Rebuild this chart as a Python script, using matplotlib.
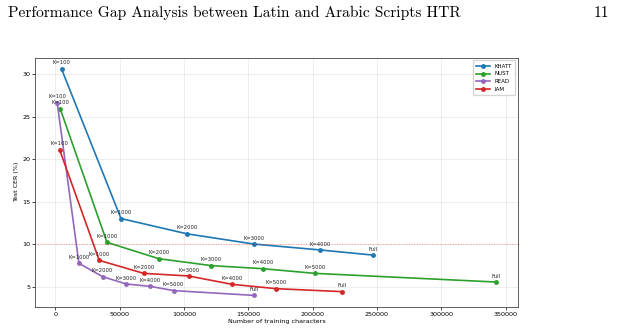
import matplotlib
matplotlib.use("Agg")
from matplotlib import pyplot as plt

# training characters / test CER (%) per dataset
k_labels = ["K=100", "K=1000", "K=2000", "K=3000", "K=4000", "K=5000", "Full"]

khatt_x = [4900, 51100, 102400, 154200, 206100, 246800]
khatt_y = [30.6, 13.0, 11.2, 10.0, 9.3, 8.7]
khatt_labels = ["K=100", "K=1000", "K=2000", "K=3000", "K=4000", "Full"]

nust_x = [3900, 40200, 80400, 121300, 161200, 201700, 342400]
nust_y = [25.9, 10.2, 8.28, 7.46, 7.1, 6.55, 5.53]

read_x = [1550, 18400, 36800, 55200, 73900, 92000, 154200]
read_y = [26.6, 7.73, 6.16, 5.3, 5.02, 4.52, 3.96]

iam_x = [3400, 34200, 68700, 103700, 137400, 171600, 222600]
iam_y = [21.1, 8.08, 6.55, 6.24, 5.26, 4.75, 4.4]

series = [
    ("KHATT", khatt_x, khatt_y, khatt_labels, "tab:blue"),
    ("NUST", nust_x, nust_y, k_labels, "tab:green"),
    ("READ", read_x, read_y, k_labels, "tab:purple"),
    ("IAM", iam_x, iam_y, k_labels, "tab:red"),
]

fig = plt.figure(figsize=(6.17, 3.33), dpi=100)
fig.text(0.013, 0.962, "Performance Gap Analysis between Latin and Arabic Scripts HTR",
         family="cmr10", fontsize=11.1, va="center", ha="left")
fig.text(0.988, 0.962, "11", family="cmr10", fontsize=11.1, va="center", ha="right")

ax = fig.add_axes([0.0572, 0.079, 0.782, 0.748])
for name, xs, ys, labels, color in series:
    ax.plot(xs, ys, marker="o", markersize=2.5, linewidth=1.2, color=color, label=name)
    for x, y, lab in zip(xs, ys, labels):
        ax.annotate(lab, (x, y), xytext=(0, 2.5), textcoords="offset points",
                    ha="center", va="bottom", fontsize=3.8, color="#222222")

ax.axhline(10, color="red", linestyle=":", linewidth=0.7, alpha=0.4)
ax.grid(True, alpha=0.3, linewidth=0.5)
ax.set_xlabel("Number of training characters", fontsize=4.6, labelpad=2)
ax.set_ylabel("Test CER (%)", fontsize=4.6, labelpad=2)
ax.tick_params(labelsize=4.6, width=0.5, length=2, pad=1.5)
for s in ax.spines.values():
    s.set_linewidth(0.6)
    s.set_color("#444444")
ax.legend(fontsize=4, loc="upper right", handlelength=2.5, borderpad=0.6, labelspacing=0.5)

fig.savefig("out.png", dpi=100)
